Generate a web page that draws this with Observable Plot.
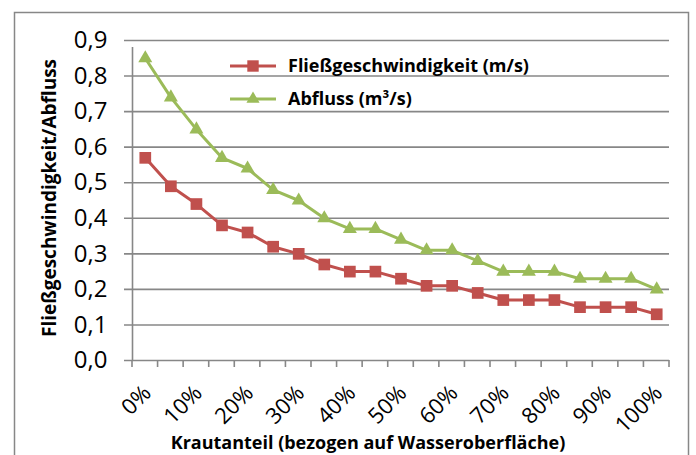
<!DOCTYPE html>
<html><head><meta charset="utf-8">
<script src="https://cdn.jsdelivr.net/npm/d3@7"></script>
<script src="https://cdn.jsdelivr.net/npm/@observablehq/plot@0.6"></script>
<style>
html,body{margin:0;padding:0;background:#fff;}
#chart{position:relative;width:696px;height:455px;overflow:hidden;}
</style></head>
<body><div id="chart"></div>
<script>
const categories = ["0%","5%","10%","15%","20%","25%","30%","35%","40%","45%","50%","55%","60%","65%","70%","75%","80%","85%","90%","95%","100%"];
const tickLabels = ["0%","10%","20%","30%","40%","50%","60%","70%","80%","90%","100%"];
const fliess = [0.57,0.49,0.44,0.38,0.36,0.32,0.30,0.27,0.25,0.25,0.23,0.21,0.21,0.19,0.17,0.17,0.17,0.15,0.15,0.15,0.13];
const abfluss = [0.85,0.74,0.65,0.57,0.54,0.48,0.45,0.40,0.37,0.37,0.34,0.31,0.31,0.28,0.25,0.25,0.25,0.23,0.23,0.23,0.20];
const yTicks = [0,0.1,0.2,0.3,0.4,0.5,0.6,0.7,0.8,0.9];
const seriesNames = ["Fließgeschwindigkeit (m/s)","Abfluss (m³/s)"];

const RED = "#C0504D", GREEN = "#9BBB59", GRID = "#878787";
const FONT = "'Open Sans', Lato, sans-serif";

const fData = categories.map((c,i)=>({i, v: fliess[i]}));
const aData = categories.map((c,i)=>({i, v: abfluss[i]}));
const boundaries = categories.map((c,i)=>i-0.5).concat([categories.length-0.5]);
const labelData = tickLabels.map(l=>({i: categories.indexOf(l), label: l}));
const fmt = d => d3.format(".1f")(d).replace(".", ",");

const plot = Plot.plot({
  width: 696, height: 455,
  marginLeft: 132, marginRight: 27, marginTop: 40, marginBottom: 95,
  style: {fontFamily: FONT, background: "#fff", overflow: "visible"},
  x: {type: "linear", domain: [-0.5, categories.length-0.5], axis: null},
  y: {type: "linear", domain: [0, 0.9], axis: null},
  marks: [
    Plot.ruleY(yTicks, {y: d=>d, stroke: GRID, strokeWidth: 1.6, insetLeft: -8}),
    Plot.ruleX([-0.5], {x: d=>d, y1: 0, y2: 0.9, stroke: GRID, strokeWidth: 1.6, insetBottom: -7}),
    Plot.text(yTicks, {x: -0.5, y: d=>d, text: fmt, textAnchor: "end", dx: -25, fontSize: 24, fill: "#000"}),
    Plot.text(labelData, {x: "i", y: 0, text: "label", rotate: -45, textAnchor: "end", dx: 2, dy: 29, fontSize: 22, fill: "#000"}),
    Plot.line(aData, {x: "i", y: "v", stroke: GREEN, strokeWidth: 3}),
    Plot.dot(aData, {x: "i", y: "v", symbol: "triangle", r: 5.2, fill: GREEN, stroke: "none"}),
    Plot.line(fData, {x: "i", y: "v", stroke: RED, strokeWidth: 3}),
    Plot.dot(fData, {x: "i", y: "v", symbol: "square", r: 6.6, fill: RED, stroke: "none"})
  ]
});

const svg = d3.select(plot);
const xs = plot.scale("x"), ys = plot.scale("y");
// x tick marks at category boundaries
const y0 = ys.apply(0);
svg.append("g").selectAll("line").data(boundaries).join("line")
  .attr("x1", d=>xs.apply(d)).attr("x2", d=>xs.apply(d))
  .attr("y1", y0).attr("y2", y0 + 7).attr("stroke", GRID).attr("stroke-width", 1.6);
// Outer border
svg.insert("rect", ":first-child").attr("x", 14.5).attr("y", 12.5).attr("width", 674).attr("height", 470)
  .attr("fill", "#fff").attr("stroke", GRID).attr("stroke-width", 1.5);

// Legend
const leg = svg.append("g").attr("font-family", FONT).attr("font-weight", "bold").attr("font-size", 18).attr("text-anchor", "start");
const legItems = [
  {name: seriesNames[0], color: RED, sym: d3.symbolSquare, size: 130, y: 66},
  {name: seriesNames[1], color: GREEN, sym: d3.symbolTriangle, size: 75, y: 99}
];
legItems.forEach(it => {
  leg.append("line").attr("x1", 230).attr("x2", 276).attr("y1", it.y).attr("y2", it.y)
    .attr("stroke", it.color).attr("stroke-width", 3);
  leg.append("path").attr("d", d3.symbol(it.sym, it.size)()).attr("transform", `translate(253,${it.y})`)
    .attr("fill", it.color);
  leg.append("text").attr("x", 288).attr("y", it.y + 6).text(it.name).attr("fill", "#000");
});

// Axis titles
svg.append("text").attr("transform", "translate(56,198) rotate(-90)").attr("text-anchor", "middle")
  .attr("font-family", FONT).attr("font-weight", "bold").attr("font-size", 19).text("Fließgeschwindigkeit/Abfluss");
svg.append("text").attr("x", 368).attr("y", 449).attr("text-anchor", "middle")
  .attr("font-family", FONT).attr("font-weight", "bold").attr("font-size", 18).text("Krautanteil (bezogen auf Wasseroberfläche)");

document.getElementById("chart").appendChild(plot);
</script></body></html>
